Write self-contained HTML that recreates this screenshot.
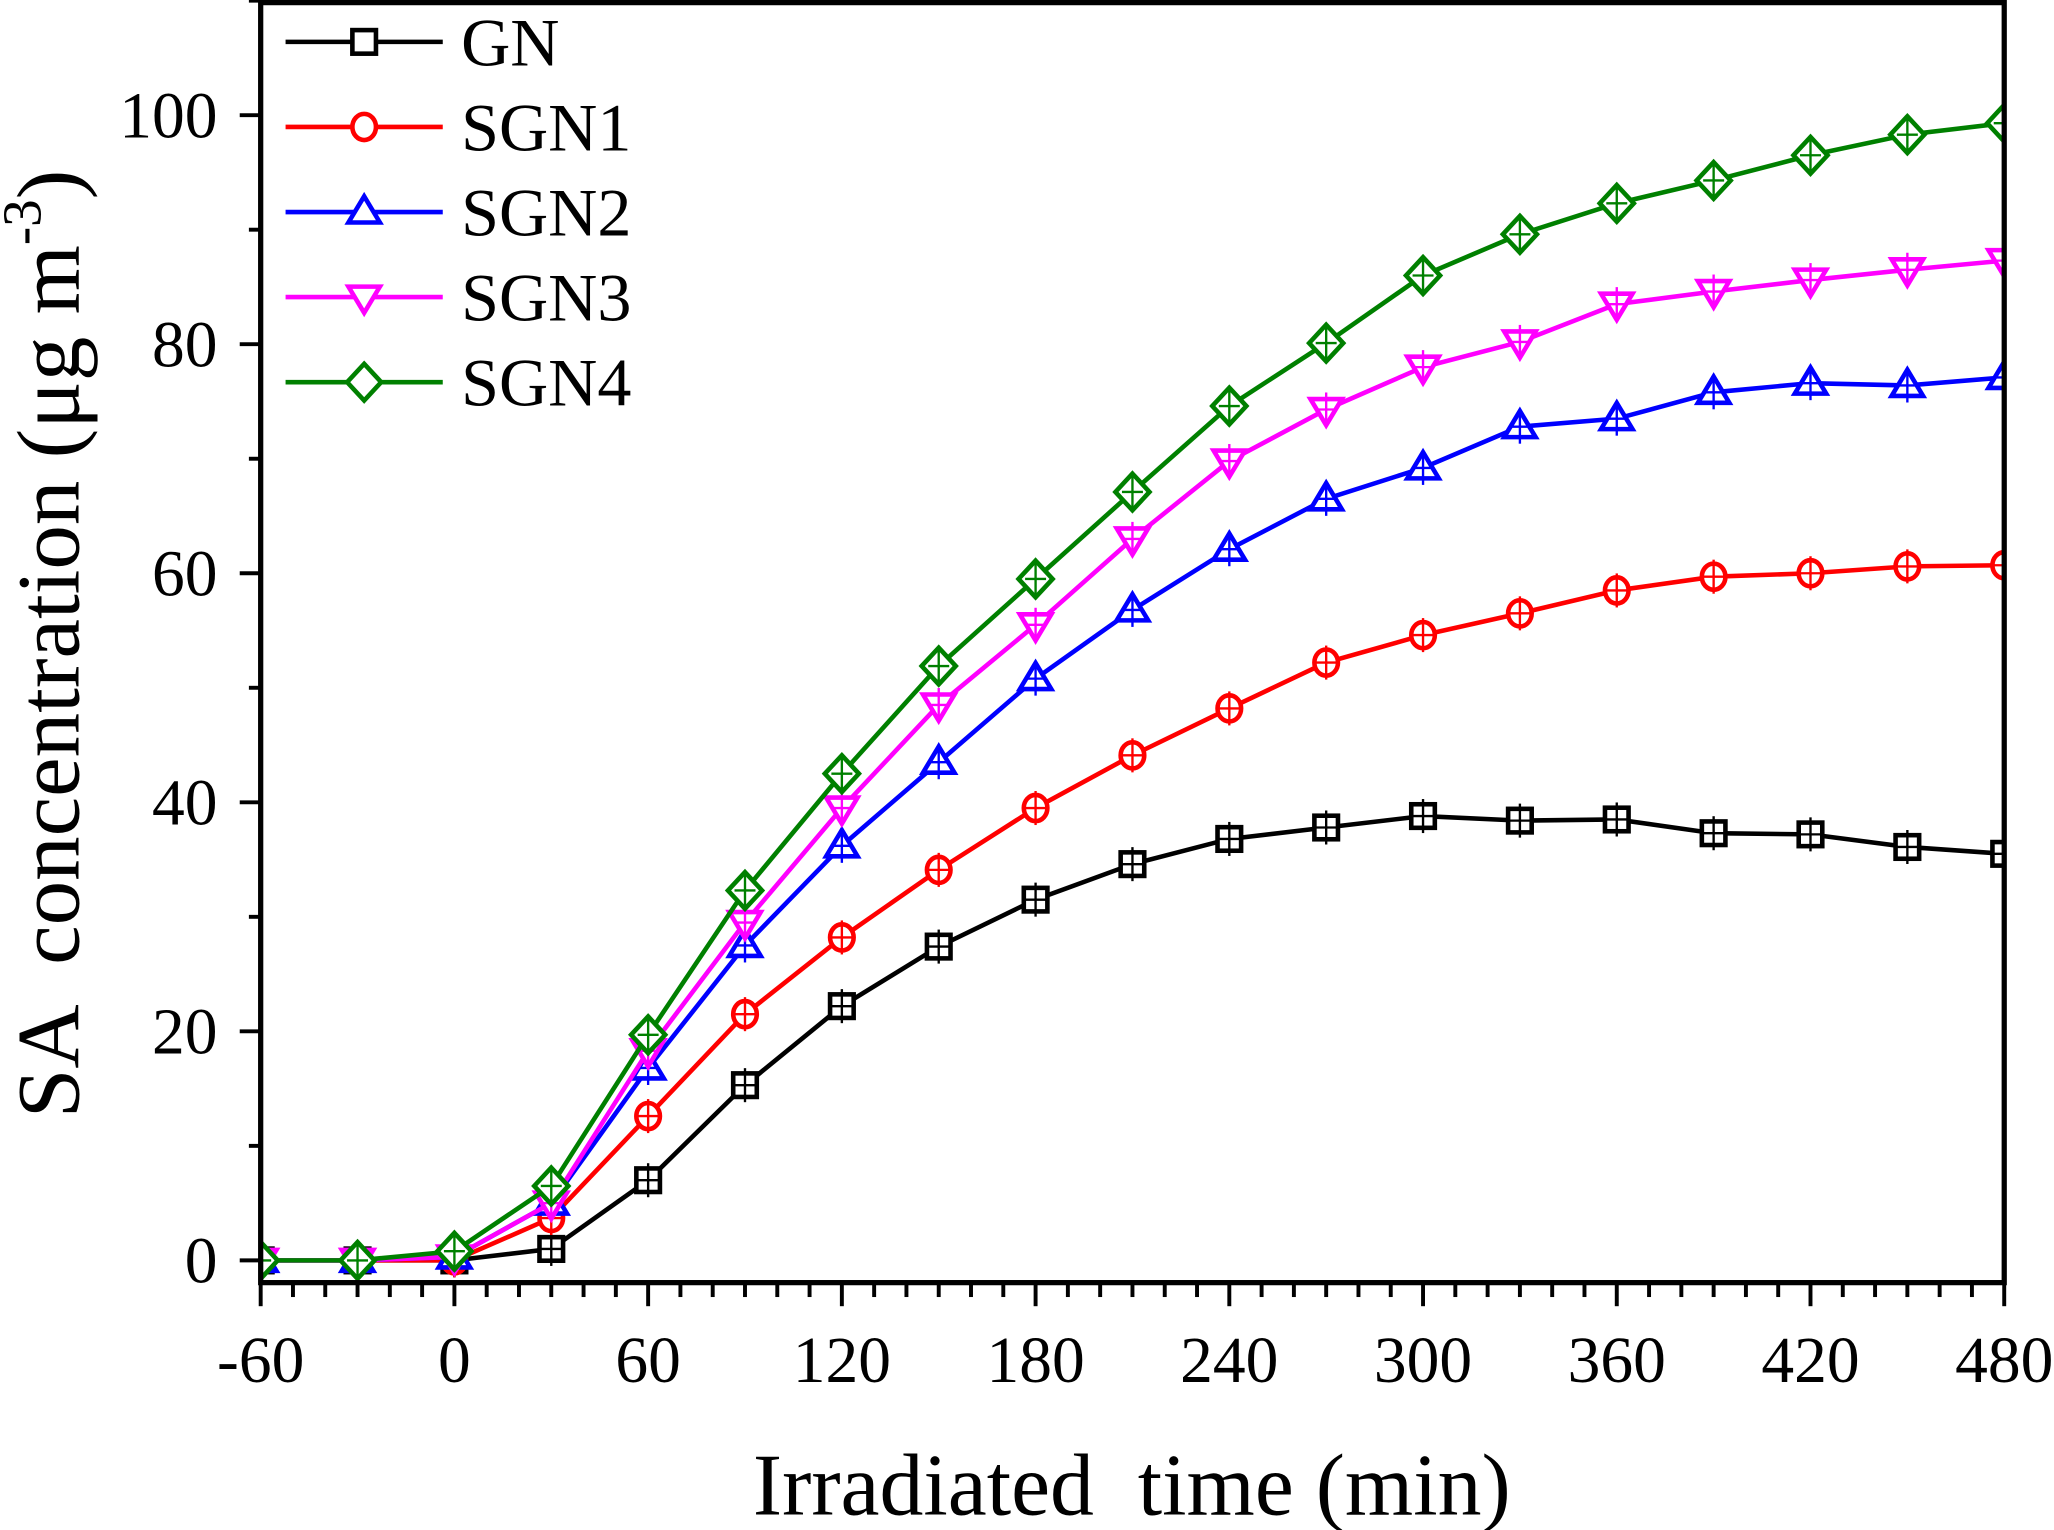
<!DOCTYPE html>
<html><head><meta charset="utf-8"><style>
html,body{margin:0;padding:0;background:#fff}
svg{display:block}
text{font-family:"Liberation Serif",serif;fill:#000}
</style></head><body>
<svg id="chart" width="2054" height="1530" viewBox="0 0 1568 1169" preserveAspectRatio="none" xmlns="http://www.w3.org/2000/svg">
<defs><clipPath id="pc"><rect x="199" y="2" width="1331" height="978"/></clipPath></defs>
<g id="grid"></g>
<g id="series" clip-path="url(#pc)"></g>
<g id="axes"></g>
<g id="legend"></g>
<text x="864" y="1157" font-size="67" text-anchor="middle" xml:space="preserve">Irradiated  time (min)</text>
<text transform="translate(60,492) rotate(-90)" font-size="68" text-anchor="middle" xml:space="preserve">SA  concentration (μg m<tspan font-size="42" dy="-29">-3</tspan><tspan dy="29">)</tspan></text>
</svg>
<script>
const times=[-60,-30,0,30,60,90,120,150,180,210,240,270,300,330,360,390,420,450,480];
const seriesNames=["GN","SGN1","SGN2","SGN3","SGN4"];
const gnValues=[0,0,0,1,7,15.3,22.2,27.4,31.5,34.6,36.8,37.8,38.8,38.4,38.5,37.3,37.2,36.1,35.5];
const sgn1Values=[0,0,0,3.7,12.6,21.5,28.2,34.1,39.5,44.1,48.2,52.2,54.6,56.5,58.5,59.7,60,60.6,60.7];
const sgn2Values=[0,0,0.3,5,16.8,27.5,36.2,43.5,50.8,56.8,62.1,66.5,69.2,72.8,73.5,75.8,76.6,76.4,77.1];
const sgn3Values=[0,0,0.3,5,18.3,29.5,39.5,48.5,55.5,63,69.8,74.3,78,80.2,83.5,84.6,85.6,86.5,87.3];
const sgn4Values=[0,0,0.8,6.5,19.7,32.3,42.5,51.9,59.5,67.1,74.6,80.1,86,89.6,92.3,94.3,96.5,98.3,99.3];
const xTicks=[-60,0,60,120,180,240,300,360,420,480];
const yTicks=[0,20,40,60,80,100];

const NS="http://www.w3.org/2000/svg";
const X0=199,X1=1530,Y0=980,YT=2;
const xs=t=>X0+(t+60)/540*(X1-X0);
const ys=v=>963-v*8.75;
function mk(tag,attrs,parent){const e=document.createElementNS(NS,tag);for(const k in attrs)e.setAttribute(k,attrs[k]);parent.appendChild(e);return e;}
const axes=document.getElementById('axes');
const frame=mk('rect',{x:X0,y:YT,width:X1-X0,height:Y0-YT,fill:'none',stroke:'#000','stroke-width':4},axes);


for(let t=-60;t<=480;t+=10){
  const major=(t%60===0);
  const l=mk('line',{x1:xs(t),x2:xs(t),y1:Y0,y2:Y0+(major?18:11),stroke:'#000','stroke-width':3},axes);
  
  
}
xTicks.forEach(t=>{
  const tx=mk('text',{x:xs(t),y:1056,'font-size':50,'text-anchor':'middle'},axes);
  tx.textContent=t;
  
  
});
for(let v=0;v<=110;v+=10){
  const major=(v%20===0);
  const l=mk('line',{x1:X0-(major?16:9),x2:X0,y1:ys(v),y2:ys(v),stroke:'#000','stroke-width':3},axes);
  
  
}
yTicks.forEach(v=>{
  const tx=mk('text',{x:166,y:ys(v)+17,'font-size':50,'text-anchor':'end'},axes);
  tx.textContent=v;
  
  
});
const colors=["#000000","#ff0000","#0000ff","#ff00ff","#008000"];
const shapes=["square","circle","up","down","diamond"];
const allVals=[gnValues,sgn1Values,sgn2Values,sgn3Values,sgn4Values];
function marker(shape,x,y,c,parent,cross){
  let e;const s=10;
  if(shape==='square')e=mk('rect',{x:x-s+1,y:y-s+1,width:2*s-2,height:2*s-2},parent);
  else if(shape==='circle')e=mk('ellipse',{cx:x,cy:y,rx:s-1,ry:s},parent);
  else if(shape==='up')e=mk('polygon',{points:`${x},${y-s-2} ${x-s-2},${y+s-2} ${x+s+2},${y+s-2}`},parent);
  else if(shape==='down')e=mk('polygon',{points:`${x},${y+s+2} ${x-s-2},${y-s+2} ${x+s+2},${y-s+2}`},parent);
  else e=mk('polygon',{points:`${x},${y-s-4} ${x+s+3},${y} ${x},${y+s+4} ${x-s-3},${y}`},parent);
  e.setAttribute('fill','#fff');e.setAttribute('stroke',c);e.setAttribute('stroke-width',3.5);
  if(cross){
    mk('line',{x1:x,x2:x,y1:y-s-3,y2:y+s+3,stroke:c,'stroke-width':1.8},parent);
    mk('line',{x1:x-s+2,x2:x+s-2,y1:y,y2:y,stroke:c,'stroke-width':1.8},parent);
  }
  return e;
}
const sg=document.getElementById('series');
allVals.forEach((vals,i)=>{
  const g=mk('g',{},sg);
  
  
  const pl=mk('polyline',{points:times.map((t,j)=>xs(t)+','+ys(vals[j])).join(' '),fill:'none',stroke:colors[i],'stroke-width':3.5},g);
  
  
  times.forEach((t,j)=>{
    const m=marker(shapes[i],xs(t),ys(vals[j]),colors[i],g,true);
    
    
  });
});
const lg=document.getElementById('legend');
seriesNames.forEach((n,i)=>{
  const y=32+i*65;
  const g=mk('g',{},lg);
  
  
  mk('line',{x1:218,x2:338,y1:y,y2:y,stroke:colors[i],'stroke-width':3.5},g);
  marker(shapes[i],278,y,colors[i],g,false);
  const tx=mk('text',{x:352,y:y+18,'font-size':52},g);
  tx.textContent=n;
});
</script>
</body></html>
